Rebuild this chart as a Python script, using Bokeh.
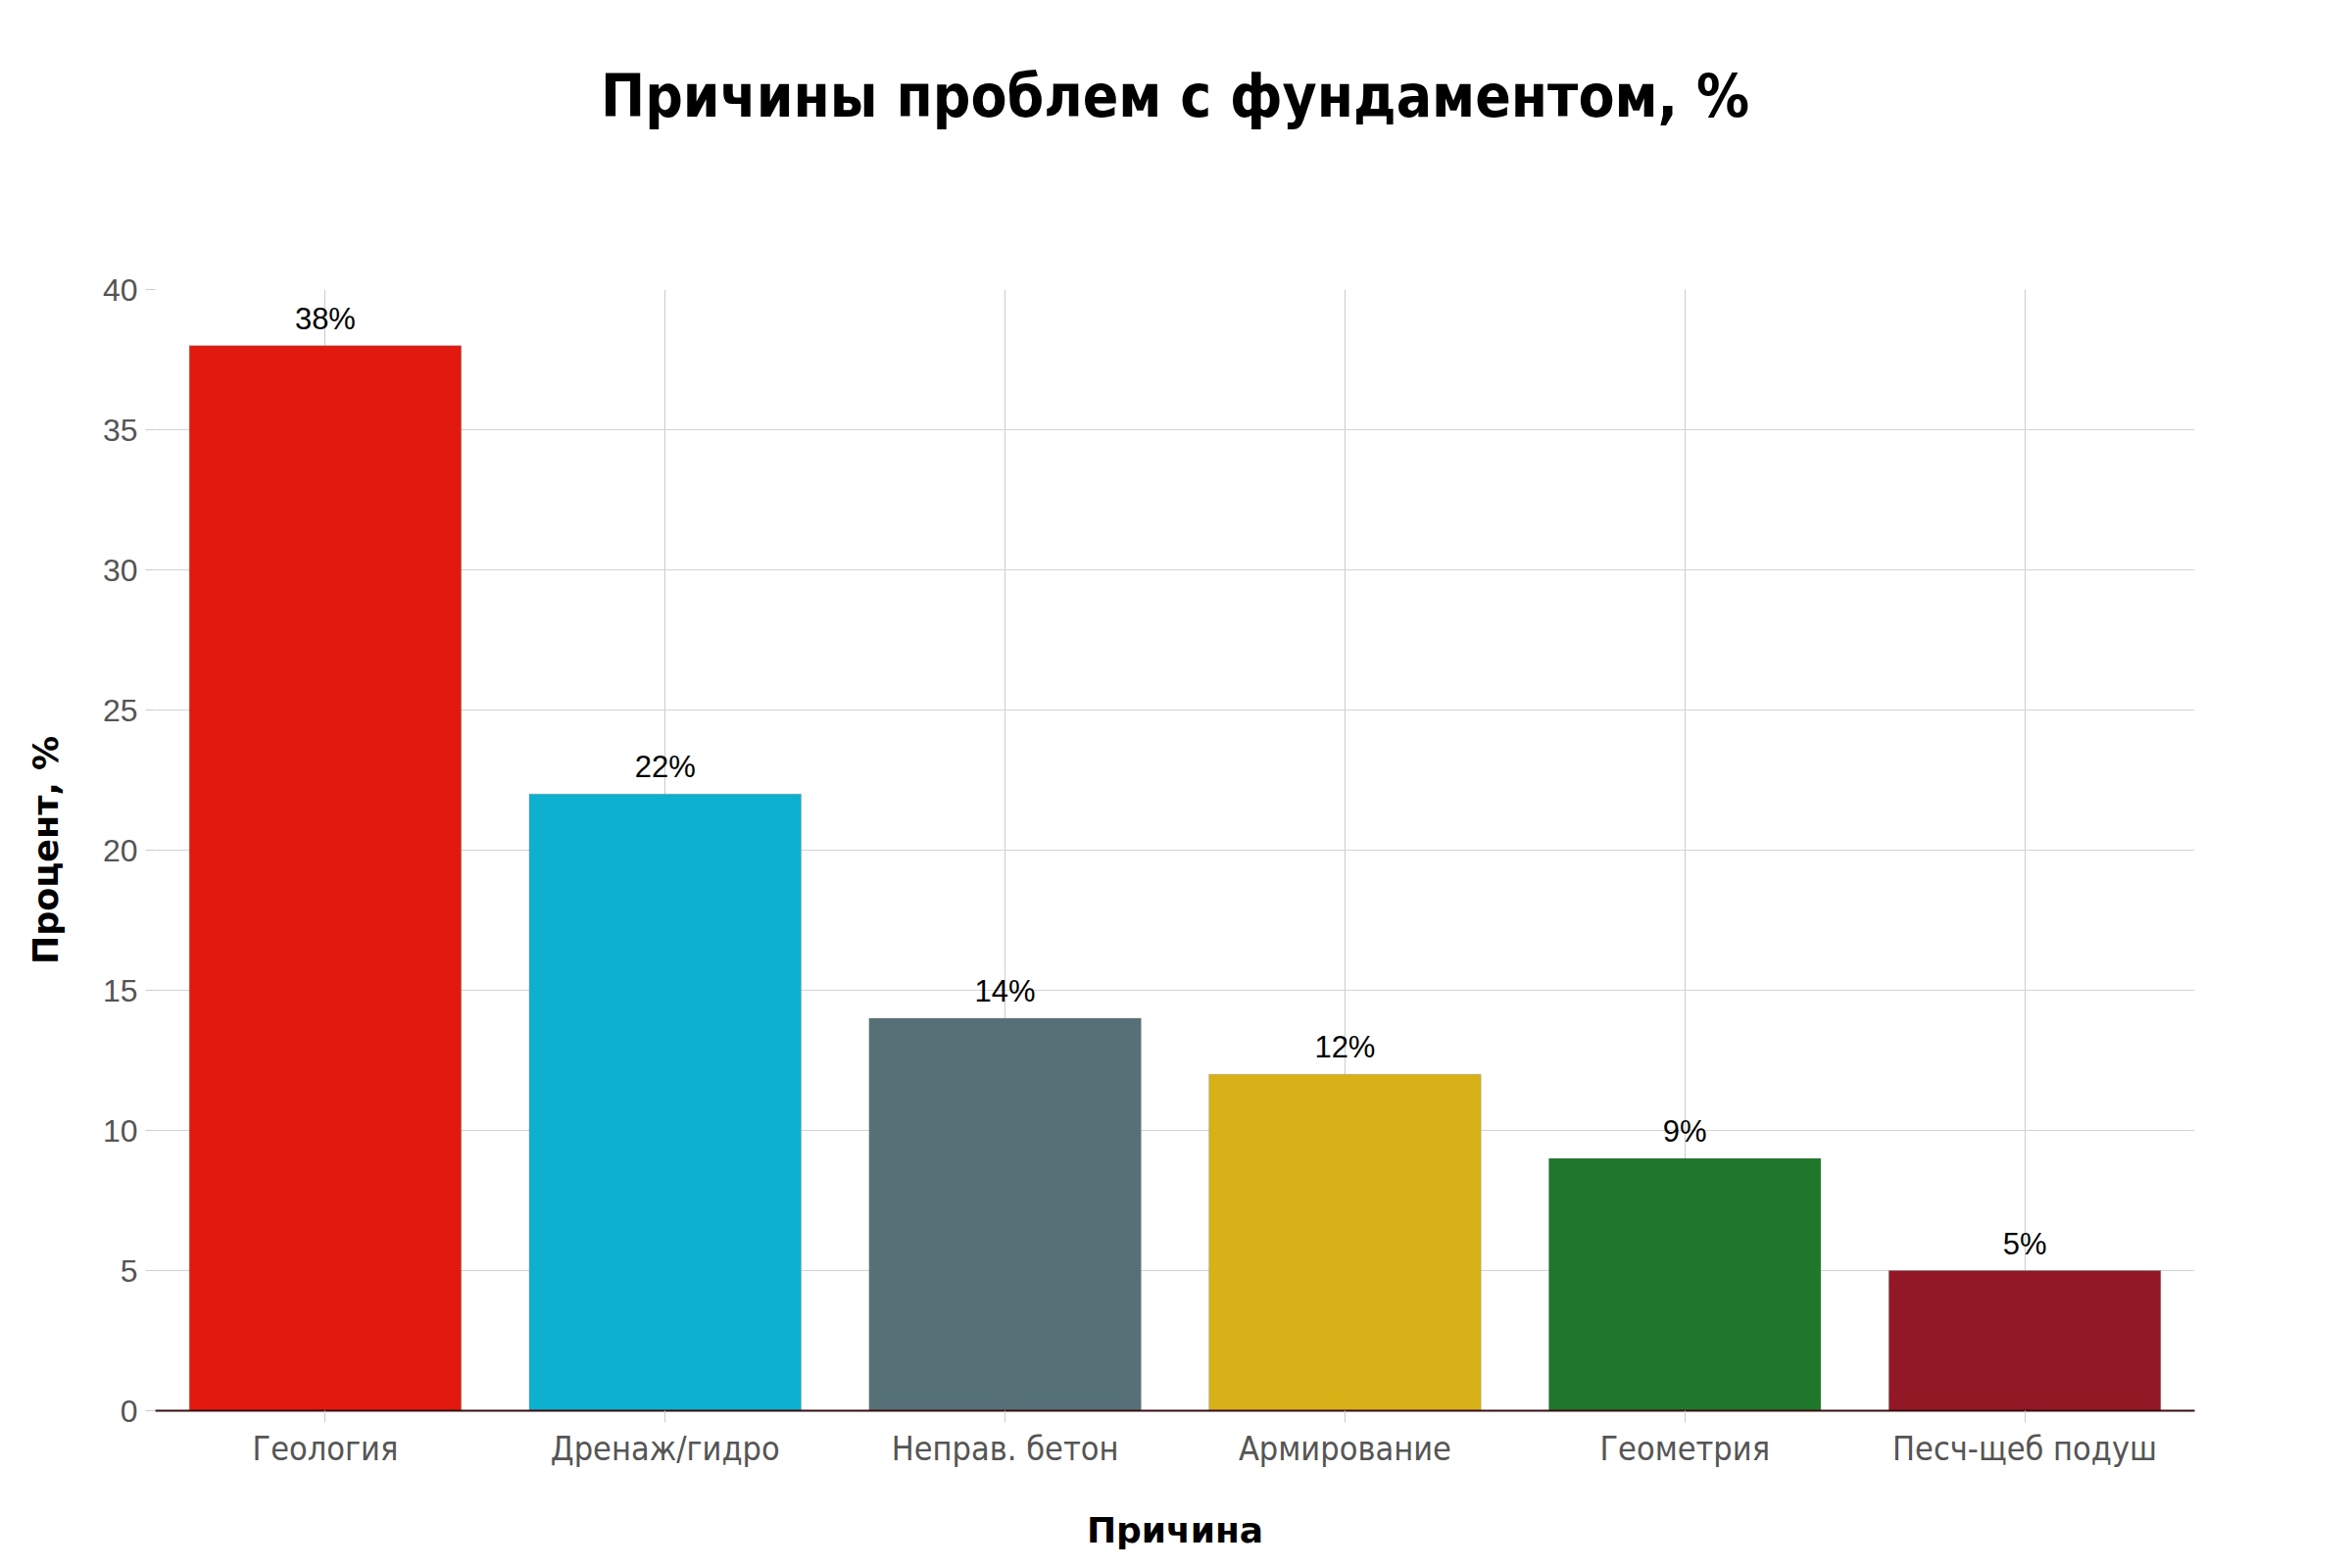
from bokeh.plotting import figure
from bokeh.models import ColumnDataSource, LabelSet, Title
from bokeh.core.properties import value
from bokeh.embed import file_html
from bokeh.resources import INLINE

title_text = "Причины проблем с фундаментом, %"
categories = ["Геология", "Дренаж/гидро", "Неправ. бетон", "Армирование", "Геометрия", "Песч-щеб подуш"]
values = [38, 22, 14, 12, 9, 5]
labels = ["38%", "22%", "14%", "12%", "9%", "5%"]
colors = ["#E2190F", "#0EB0D0", "#557177", "#D8B118", "#1F772B", "#921826"]
y_ticks = [0, 5, 10, 15, 20, 25, 30, 35, 40]

src = ColumnDataSource(dict(cat=categories, val=values, lab=labels, col=colors))

p = figure(x_range=categories, y_range=(0, 40), width=2400, height=1600,
           output_backend="svg", toolbar_location=None,
           min_border_left=158, min_border_right=161,
           min_border_top=295, min_border_bottom=161)
p.background_fill_color = "white"
p.border_fill_color = "white"
p.outline_line_color = None

# spacer between frame and title
spacer = Title(text=" ", text_font_size="10px", standoff=145)
p.add_layout(spacer, "above")
main_title = Title(text=title_text, align="center", text_font="DejaVu Sans Condensed",
                   text_font_style="bold", text_font_size="60px", text_color="black",
                   standoff=10)
p.add_layout(main_title, "above")

p.vbar(x="cat", top="val", width=0.8, source=src, fill_color="col",
       line_color="#888888", line_alpha=0.35, line_width=1)

lbl = LabelSet(x="cat", y="val", text="lab", source=src, text_align="center",
               text_baseline="bottom", y_offset=10, text_font=value("Liberation Sans"),
               text_font_size=value("31px"), text_color=value("black"))
p.add_layout(lbl)

p.xgrid.grid_line_color = "#cccccc"
p.ygrid.grid_line_color = "#d4d4d4"
p.xgrid.grid_line_width = 1
p.ygrid.grid_line_width = 1

p.yaxis.ticker = y_ticks
p.yaxis.axis_line_color = None
p.yaxis.major_tick_line_color = "#cccccc"
p.yaxis.major_tick_out = 10
p.yaxis.major_tick_in = 0
p.yaxis.minor_tick_line_color = None
p.yaxis.major_label_text_font = "Liberation Sans"
p.yaxis.major_label_text_font_size = "32px"
p.yaxis.major_label_text_color = "#555555"
p.yaxis.major_label_standoff = 8
p.yaxis.axis_label = "Процент, %"
p.yaxis.axis_label_text_font = "DejaVu Sans"
p.yaxis.axis_label_text_font_style = "bold"
p.yaxis.axis_label_text_font_size = "35px"
p.yaxis.axis_label_text_color = "black"
p.yaxis.axis_label_standoff = 35

p.xaxis.axis_line_color = "#3a0d10"
p.xaxis.axis_line_width = 2
p.xaxis.major_tick_line_color = "#cccccc"
p.xaxis.major_tick_out = 12
p.xaxis.major_tick_in = 0
p.xaxis.major_label_text_font = "DejaVu Sans Condensed"
p.xaxis.major_label_text_font_size = "34px"
p.xaxis.major_label_text_color = "#555555"
p.xaxis.major_label_standoff = 6
p.xaxis.axis_label = "Причина"
p.xaxis.axis_label_text_font = "DejaVu Sans"
p.xaxis.axis_label_text_font_style = "bold"
p.xaxis.axis_label_text_font_size = "36px"
p.xaxis.axis_label_text_color = "black"
p.xaxis.axis_label_standoff = 40

open("out.html", "w").write(file_html(p, INLINE))
